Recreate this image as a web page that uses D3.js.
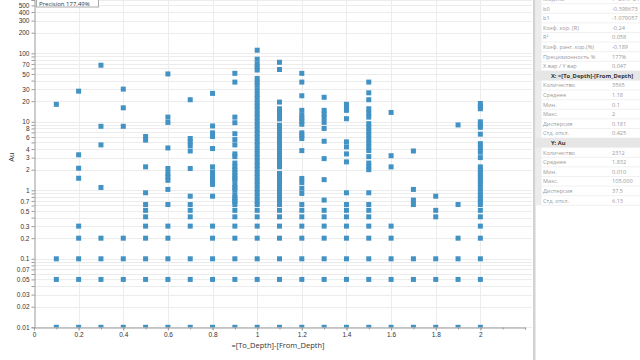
<!DOCTYPE html>
<html>
<head>
<meta charset="utf-8">
<script src="https://cdn.jsdelivr.net/npm/d3@7/dist/d3.min.js"></script>
<style>
  html, body { margin: 0; padding: 0; background: #fff; }
  svg { display: block; font-family: "Segoe UI", "Open Sans", "DejaVu Sans", sans-serif; }
</style>
</head>
<body>
<svg id="chart" width="640" height="360"></svg>
<script>
// ---------- DATA ----------
const depthCategories = [0.1, 0.2, 0.3, 0.4, 0.5, 0.6, 0.7, 0.8, 0.9, 1.0,
                         1.1, 1.2, 1.3, 1.4, 1.5, 1.6, 1.7, 1.8, 1.9, 2.0];

const auValues = [
  [18, 0.1, 0.05, 0.01],
  [28, 3.3, 2.1, 1.5, 0.3, 0.2, 0.1, 0.05, 0.01],
  [67, 8.6, 4.6, 1.1, 0.2, 0.1, 0.05, 0.01],
  [30, 16, 8.6, 0.2, 0.1, 0.05, 0.01],
  [6.1, 5.4, 2.2, 0.92, 0.62, 0.51, 0.41, 0.3, 0.2, 0.1, 0.05, 0.01],
  [50, 11.7, 9.8, 4.15, 2.08, 1.76, 1.57, 1.4, 1.03, 0.62, 0.3, 0.2, 0.1, 0.05, 0.01],
  [21, 5.7, 5.1, 4.5, 3.75, 2.08, 0.82, 0.62, 0.51, 0.41, 0.3, 0.1, 0.05, 0.01],
  [26, 8.7, 6.9, 6.1, 4.07, 2.2, 1.85, 1.66, 1.49, 1.33, 1.22, 0.82, 0.3, 0.2, 0.1, 0.05, 0.01],
  [51, 38, 11.7, 9.7, 6.7, 5.5, 4.6, 3.4, 3.1, 2.5, 2.2, 2.0, 1.8, 1.65, 1.5, 1.4, 1.2, 1.1, 1.0,
   0.85, 0.78, 0.72, 0.68, 0.62, 0.51, 0.41, 0.3, 0.2, 0.1, 0.05, 0.01],
  [111, 82, 70, 63, 57, 43, 38, 34, 29, 25, 22, 19, 17, 15, 13, 11.5, 10, 8.8, 7.7, 6.7, 5.9, 5.1,
   4.5, 3.9, 3.4, 3.0, 2.6, 2.3, 2.0, 1.75, 1.55, 1.35, 1.2, 1.05, 0.92, 0.8, 0.7, 0.62, 0.51,
   0.41, 0.3, 0.2, 0.1, 0.05, 0.01],
  [74, 58, 19.4, 15.5, 14, 12.5, 11, 8.9, 8.1, 7.6, 6.7, 5.9, 5.2, 4.6, 4.0, 3.5, 3.1, 2.7, 2.5,
   2.2, 1.76, 1.55, 1.38, 1.22, 1.08, 0.95, 0.84, 0.75, 0.68, 0.62, 0.51, 0.41, 0.3, 0.2, 0.1, 0.05, 0.01],
  [51, 38, 24, 14.7, 12.5, 11.3, 10.2, 9.2, 6.9, 6.3, 5.7, 3.8, 1.49, 1.3, 1.07, 0.9, 0.62, 0.51,
   0.41, 0.3, 0.2, 0.1, 0.05, 0.01],
  [22.8, 14.7, 13.0, 11.5, 9.8, 8.0, 5.2, 2.9, 1.43, 0.72, 0.51, 0.41, 0.3, 0.2, 0.1, 0.05, 0.01],
  [18, 16, 14.7, 11.1, 5.1, 4.3, 3.4, 2.6, 0.92, 0.62, 0.51, 0.41, 0.3, 0.2, 0.1, 0.05, 0.01],
  [38, 26.5, 21, 15.5, 13.4, 11.7, 9.4, 8.3, 7.3, 6.4, 5.6, 4.9, 4.3, 3.8, 3.1, 2.5, 2.2, 2.0,
   0.92, 0.62, 0.51, 0.41, 0.3, 0.2, 0.1, 0.05, 0.01],
  [13.7, 3.2, 2.2, 0.3, 0.2, 0.1, 0.05, 0.01],
  [3.75, 1.03, 0.72, 0.62, 0.1, 0.05, 0.01],
  [0.82, 0.51, 0.41, 0.1, 0.05, 0.01],
  [9.0, 0.62, 0.2, 0.1, 0.05, 0.01],
  [18.5, 16.5, 15.5, 10, 9, 8.3, 6.6, 4.8, 4.2, 3.6, 3.0, 2.2, 2.0, 1.75, 1.55, 1.38, 1.22, 1.08,
   0.95, 0.84, 0.75, 0.68, 0.62, 0.51, 0.41, 0.3, 0.2, 0.1, 0.05, 0.01]
];

const yLabelTicks = [0.01, 0.02, 0.03, 0.05, 0.07, 0.1, 0.2, 0.3, 0.5, 0.7, 1, 2, 3, 4, 6, 8,
                     10, 20, 30, 50, 70, 100, 200, 300, 400, 500];
const yGridMultipliers = [1, 2, 3, 4, 5, 6, 7, 8, 9];
const yGridDecades = [0.01, 0.1, 1, 10, 100];
const xLabelTicks = [0, 0.2, 0.4, 0.6, 0.8, 1, 1.2, 1.4, 1.6, 1.8, 2];
const xMinorTicks = [0, 0.1, 0.2, 0.3, 0.4, 0.5, 0.6, 0.7, 0.8, 0.9, 1, 1.1, 1.2, 1.3, 1.4, 1.5,
                     1.6, 1.7, 1.8, 1.9, 2, 2.1, 2.2];

const xTitle = "=[To_Depth]-[From_Depth]";
const yTitle = "Au";
const precisionText = "Precision 177.49%";

// stats panel rows
const statLabels = ["Модель", "b0", "b1", "Коэф. кор. (R)", "R²", "Коэф. ранг. кор.(%)",
  "Прецизионность %", "X вар / Y вар", "X: =[To_Depth]-[From_Depth]",
  "Количество", "Среднее", "Мин.", "Макс.", "Дисперсия", "Стд. откл.", "Y: Au",
  "Количество", "Среднее", "Мин.", "Макс.", "Дисперсия", "Стд. откл."];
const statValues = ["Y=b0·X^b1", "-0.398673", "-1.079057", "-0.24", "0.058", "-0.189", "177%", "0.047", "",
  "3565", "1.18", "0.1", "2", "0.181", "0.425", "",
  "2312", "1.832", "0.010", "105.000", "37.5", "6.13"];
const statHeaderRows = [8, 15];

// ---------- CHART ----------
const svg = d3.select("#chart");
const W = 640, H = 360;
const plotLeft = 34, plotRight = 525, plotTop = 0, plotBottom = 327.3;

const x = d3.scaleLinear().domain([0, 2.2]).range([plotLeft, plotRight]);
const y = d3.scaleLog().domain([0.01, 600]).range([plotBottom, plotTop]);

const yGrid = [];
yGridDecades.forEach(d => yGridMultipliers.forEach(m => { const v = +(d * m).toPrecision(3); if (v <= 600) yGrid.push(v); }));

const grid = svg.append("g");
grid.selectAll("line.hg").data(yGrid).join("line")
  .attr("x1", plotLeft).attr("x2", 532)
  .attr("y1", d => Math.round(y(d)) + 0.5).attr("y2", d => Math.round(y(d)) + 0.5)
  .attr("stroke", "#ececec").attr("stroke-width", 1);
grid.selectAll("line.vg").data(xLabelTicks.filter(d => d > 0)).join("line")
  .attr("x1", d => Math.round(x(d)) + 0.5).attr("x2", d => Math.round(x(d)) + 0.5)
  .attr("y1", 0).attr("y2", plotBottom)
  .attr("stroke", "#ececec").attr("stroke-width", 1);

// points, clipped to plot area
svg.append("defs").append("clipPath").attr("id", "plotClip")
  .append("rect").attr("x", plotLeft).attr("y", -10).attr("width", 500).attr("height", Math.round(plotBottom) + 10.5);
const points = [];
depthCategories.forEach((c, i) => auValues[i].forEach(v => points.push({ x: c, v })));
const S = 5;
svg.append("g").attr("clip-path", "url(#plotClip)")
  .selectAll("rect").data(points).join("rect")
  .attr("x", d => x(d.x) - S / 2).attr("y", d => y(d.v) - S / 2)
  .attr("width", S).attr("height", S)
  .attr("fill", "#4292c4");

// y axis
const labelSet = new Set(yLabelTicks.map(v => +v.toPrecision(3)));
const yAxis = d3.axisLeft(y).tickValues(yGrid).tickSize(3).tickPadding(2)
  .tickFormat(d => labelSet.has(+d.toPrecision(3)) ? d3.format("~g")(d) : "");
const gy = svg.append("g").attr("transform", `translate(${plotLeft + 0.5},0)`).call(yAxis);
gy.select(".domain").attr("stroke", "#9a9a9a");
gy.selectAll(".tick line").attr("stroke", "#9a9a9a");
gy.selectAll(".tick text").attr("fill", "#333").style("font-size", "6.5px");

// x axis
const xAxisMinor = d3.axisBottom(x).tickValues(xMinorTicks).tickSize(2).tickFormat("");
const gxm = svg.append("g").attr("transform", `translate(0,${Math.round(plotBottom) + 0.5})`).call(xAxisMinor);
gxm.select(".domain").attr("stroke", "#9a9a9a");
gxm.selectAll(".tick line").attr("stroke", "#9a9a9a");
const xAxis = d3.axisBottom(x).tickValues(xLabelTicks).tickSize(3).tickPadding(2).tickFormat(d3.format("~g"));
const gx = svg.append("g").attr("transform", `translate(0,${Math.round(plotBottom) + 0.5})`).call(xAxis);
gx.select(".domain").remove();
gx.selectAll(".tick line").attr("stroke", "#9a9a9a");
gx.selectAll(".tick text").attr("fill", "#333").style("font-size", "6.5px");

// axis titles
svg.append("text").attr("x", 278).attr("y", 348).attr("text-anchor", "middle")
  .attr("fill", "#333").style("font-size", "7.5px").text(xTitle);
svg.append("text").attr("transform", "translate(14,157) rotate(-90)").attr("text-anchor", "middle")
  .attr("fill", "#333").style("font-size", "7.5px").text(yTitle);

// precision box
svg.append("rect").attr("x", 36.5).attr("y", -3).attr("width", 62).attr("height", 10)
  .attr("fill", "#fff").attr("stroke", "#aaa");
svg.append("text").attr("x", 39).attr("y", 5.6).attr("fill", "#333").style("font-size", "6px").text(precisionText);

// ---------- STATS PANEL ----------
const panelX = 533;
const panel = svg.append("g");
panel.append("rect").attr("x", panelX + 2).attr("y", 0).attr("width", W - panelX - 2).attr("height", H).attr("fill", "#fff");
panel.append("rect").attr("x", panelX).attr("y", 0).attr("width", 2.5).attr("height", H).attr("fill", "#d2d2d2");
const rowH = 9.6, row0 = -1.1;
const tableBottom = row0 + rowH * (statLabels.length - 1) + rowH / 2;
panel.append("rect").attr("x", panelX + 2.5).attr("y", 0).attr("width", 6).attr("height", tableBottom).attr("fill", "#ececec");

const rows = panel.selectAll("g.row").data(statLabels.map((l, i) => ({ l, v: statValues[i], i }))).join("g")
  .attr("transform", d => `translate(0,${row0 + d.i * rowH})`);
rows.filter(d => statHeaderRows.includes(d.i)).append("rect")
  .attr("x", panelX + 2.5).attr("y", -rowH / 2).attr("width", W - panelX).attr("height", rowH)
  .attr("fill", "#e6e6e6");
rows.append("line").attr("x1", panelX + 8.5).attr("x2", W).attr("y1", rowH / 2).attr("y2", rowH / 2)
  .attr("stroke", "#f1f1f1");
rows.filter(d => !statHeaderRows.includes(d.i)).append("text")
  .attr("x", 543).attr("y", 2).attr("fill", "#9a9a9a").style("font-size", "5.6px").text(d => d.l);
rows.filter(d => !statHeaderRows.includes(d.i)).append("text")
  .attr("x", 612).attr("y", 2).attr("fill", "#9a9a9a").style("font-size", "5.6px").text(d => d.v);
rows.filter(d => statHeaderRows.includes(d.i)).append("text")
  .attr("x", 551).attr("y", 2.2).attr("fill", "#333").style("font-size", "5.8px").style("font-weight", "bold").text(d => d.l);
</script>
</body>
</html>
